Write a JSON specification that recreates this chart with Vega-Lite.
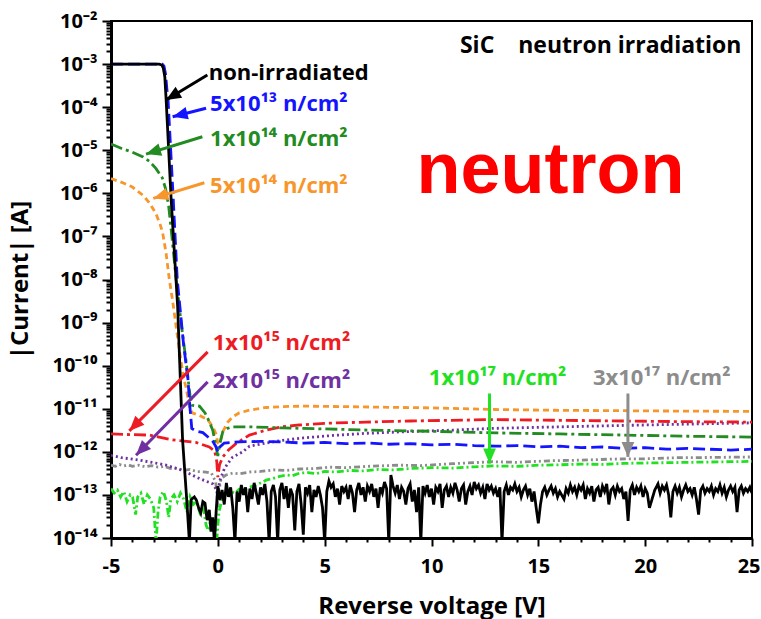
{
  "$schema": "https://vega.github.io/schema/vega-lite/v6.json",
  "width": 641,
  "height": 517,
  "autosize": {"type": "none"},
  "padding": {"left": 111, "top": 21, "right": 9, "bottom": 81},
  "background": "white",
  "config": {
    "view": {"stroke": "black", "strokeWidth": 2},
    "axis": {
      "grid": false,
      "domainColor": "black",
      "domainWidth": 3,
      "tickColor": "black",
      "tickWidth": 2,
      "labelColor": "black",
      "labelFont": "Open Sans",
      "labelFontWeight": "bold",
      "labelFontSize": 20,
      "labelOverlap": false,
      "labelFlush": false,
      "titleColor": "black",
      "titleFont": "Open Sans",
      "titleFontWeight": "bold",
      "titleFontSize": 24
    }
  },
  "datasets": {
    "curves": [
      {"s": "3e17", "x": -5, "y": 4.9e-13}, {"s": "3e17", "x": -4.8, "y": 4.6e-13}, {"s": "3e17", "x": -4.6, "y": 5.1e-13}, {"s": "3e17", "x": -4.4, "y": 4.7e-13}, {"s": "3e17", "x": -4.2, "y": 5.0e-13}, {"s": "3e17", "x": -4.0, "y": 4.6e-13}, {"s": "3e17", "x": -3.7, "y": 4.9e-13}, {"s": "3e17", "x": -3.4, "y": 4.5e-13}, {"s": "3e17", "x": -3.1, "y": 4.8e-13}, {"s": "3e17", "x": -2.8, "y": 4.4e-13}, {"s": "3e17", "x": -2.5, "y": 4.6e-13}, {"s": "3e17", "x": -2.2, "y": 4.1e-13}, {"s": "3e17", "x": -1.9, "y": 4.2e-13}, {"s": "3e17", "x": -1.65, "y": 3.7e-13}, {"s": "3e17", "x": -1.3, "y": 3.9e-13}, {"s": "3e17", "x": -1.0, "y": 3.5e-13}, {"s": "3e17", "x": -0.55, "y": 3.4e-13}, {"s": "3e17", "x": -0.3, "y": 3.2e-13}, {"s": "3e17", "x": -0.1, "y": 2.0e-13}, {"s": "3e17", "x": -0.02, "y": 8e-14}, {"s": "3e17", "x": 0.0, "y": 5e-14}, {"s": "3e17", "x": 0.05, "y": 1.2e-13}, {"s": "3e17", "x": 0.15, "y": 2.4e-13}, {"s": "3e17", "x": 0.38, "y": 2.9e-13}, {"s": "3e17", "x": 0.7, "y": 3.2e-13}, {"s": "3e17", "x": 1.0, "y": 3.1e-13}, {"s": "3e17", "x": 1.48, "y": 3.4e-13}, {"s": "3e17", "x": 2.0, "y": 3.5e-13}, {"s": "3e17", "x": 2.6, "y": 3.8e-13}, {"s": "3e17", "x": 3.2, "y": 3.7e-13}, {"s": "3e17", "x": 3.82, "y": 4.0e-13}, {"s": "3e17", "x": 4.5, "y": 4.1e-13}, {"s": "3e17", "x": 5.2, "y": 4.4e-13}, {"s": "3e17", "x": 6.0, "y": 4.3e-13}, {"s": "3e17", "x": 7.0, "y": 4.6e-13}, {"s": "3e17", "x": 8.5, "y": 4.9e-13}, {"s": "3e17", "x": 9.5, "y": 4.8e-13}, {"s": "3e17", "x": 11.0, "y": 5.3e-13}, {"s": "3e17", "x": 12.87, "y": 5.9e-13}, {"s": "3e17", "x": 14.0, "y": 5.7e-13}, {"s": "3e17", "x": 15.5, "y": 6.2e-13}, {"s": "3e17", "x": 17.0, "y": 6.4e-13}, {"s": "3e17", "x": 18.5, "y": 6.8e-13}, {"s": "3e17", "x": 20.0, "y": 6.9e-13}, {"s": "3e17", "x": 21.5, "y": 7.3e-13}, {"s": "3e17", "x": 23.0, "y": 7.4e-13}, {"s": "3e17", "x": 25.0, "y": 7.6e-13},

      {"s": "1e17", "x": -5, "y": 1.4e-13}, {"s": "1e17", "x": -4.85, "y": 1.1e-13}, {"s": "1e17", "x": -4.7, "y": 1.3e-13}, {"s": "1e17", "x": -4.55, "y": 9e-14}, {"s": "1e17", "x": -4.4, "y": 1.2e-13}, {"s": "1e17", "x": -4.25, "y": 7e-14}, {"s": "1e17", "x": -4.1, "y": 1.0e-13}, {"s": "1e17", "x": -3.99, "y": 8.9e-14}, {"s": "1e17", "x": -3.85, "y": 3.5e-14}, {"s": "1e17", "x": -3.75, "y": 9e-14}, {"s": "1e17", "x": -3.6, "y": 1.1e-13}, {"s": "1e17", "x": -3.45, "y": 6e-14}, {"s": "1e17", "x": -3.3, "y": 1.0e-13}, {"s": "1e17", "x": -3.15, "y": 8e-14}, {"s": "1e17", "x": -3.0, "y": 5e-14}, {"s": "1e17", "x": -2.89, "y": 8e-15}, {"s": "1e17", "x": -2.8, "y": 4e-14}, {"s": "1e17", "x": -2.7, "y": 9e-14}, {"s": "1e17", "x": -2.55, "y": 1.2e-13}, {"s": "1e17", "x": -2.4, "y": 7e-14}, {"s": "1e17", "x": -2.3, "y": 3e-14}, {"s": "1e17", "x": -2.2, "y": 8e-14}, {"s": "1e17", "x": -2.05, "y": 1.0e-13}, {"s": "1e17", "x": -1.9, "y": 7e-14}, {"s": "1e17", "x": -1.75, "y": 1.1e-13}, {"s": "1e17", "x": -1.6, "y": 8e-14}, {"s": "1e17", "x": -1.45, "y": 4e-14}, {"s": "1e17", "x": -1.3, "y": 9e-14}, {"s": "1e17", "x": -1.15, "y": 6e-14}, {"s": "1e17", "x": -1.0, "y": 7e-14}, {"s": "1e17", "x": -0.85, "y": 4e-14}, {"s": "1e17", "x": -0.7, "y": 6e-14}, {"s": "1e17", "x": -0.55, "y": 2e-14}, {"s": "1e17", "x": -0.45, "y": 1.5e-14}, {"s": "1e17", "x": -0.3, "y": 3e-14}, {"s": "1e17", "x": -0.15, "y": 2e-14}, {"s": "1e17", "x": -0.05, "y": 9e-15}, {"s": "1e17", "x": 0.05, "y": 4e-14}, {"s": "1e17", "x": 0.2, "y": 8e-14}, {"s": "1e17", "x": 0.38, "y": 1.0e-13}, {"s": "1e17", "x": 0.6, "y": 1.2e-13}, {"s": "1e17", "x": 0.8, "y": 1.1e-13}, {"s": "1e17", "x": 1.0, "y": 1.35e-13}, {"s": "1e17", "x": 1.2, "y": 1.3e-13}, {"s": "1e17", "x": 1.48, "y": 1.5e-13}, {"s": "1e17", "x": 1.8, "y": 1.7e-13}, {"s": "1e17", "x": 2.0, "y": 1.9e-13}, {"s": "1e17", "x": 2.26, "y": 2.2e-13}, {"s": "1e17", "x": 2.57, "y": 2.4e-13}, {"s": "1e17", "x": 2.9, "y": 2.7e-13}, {"s": "1e17", "x": 3.2, "y": 2.9e-13}, {"s": "1e17", "x": 3.5, "y": 2.8e-13}, {"s": "1e17", "x": 3.82, "y": 3.2e-13}, {"s": "1e17", "x": 4.2, "y": 3.3e-13}, {"s": "1e17", "x": 4.6, "y": 3.1e-13}, {"s": "1e17", "x": 5.0, "y": 3.5e-13}, {"s": "1e17", "x": 5.5, "y": 3.4e-13}, {"s": "1e17", "x": 6.16, "y": 3.7e-13}, {"s": "1e17", "x": 6.8, "y": 3.6e-13}, {"s": "1e17", "x": 7.5, "y": 3.9e-13}, {"s": "1e17", "x": 8.2, "y": 3.8e-13}, {"s": "1e17", "x": 9.0, "y": 4.1e-13}, {"s": "1e17", "x": 10.06, "y": 4.3e-13}, {"s": "1e17", "x": 11.0, "y": 4.2e-13}, {"s": "1e17", "x": 12.0, "y": 4.5e-13}, {"s": "1e17", "x": 12.87, "y": 4.7e-13}, {"s": "1e17", "x": 14.0, "y": 4.6e-13}, {"s": "1e17", "x": 15.0, "y": 4.9e-13}, {"s": "1e17", "x": 16.0, "y": 5.0e-13}, {"s": "1e17", "x": 17.0, "y": 5.2e-13}, {"s": "1e17", "x": 18.0, "y": 5.1e-13}, {"s": "1e17", "x": 19.0, "y": 5.4e-13}, {"s": "1e17", "x": 20.0, "y": 5.5e-13}, {"s": "1e17", "x": 21.0, "y": 5.6e-13}, {"s": "1e17", "x": 22.0, "y": 5.7e-13}, {"s": "1e17", "x": 23.0, "y": 5.8e-13}, {"s": "1e17", "x": 24.0, "y": 5.9e-13}, {"s": "1e17", "x": 25.0, "y": 6.0e-13},

      {"s": "2e15", "x": -5, "y": 8.3e-13}, {"s": "2e15", "x": -4.5, "y": 7.3e-13}, {"s": "2e15", "x": -3.83, "y": 6.6e-13}, {"s": "2e15", "x": -3.0, "y": 5.6e-13}, {"s": "2e15", "x": -2.42, "y": 4.9e-13}, {"s": "2e15", "x": -1.65, "y": 3.7e-13}, {"s": "2e15", "x": -0.86, "y": 2.4e-13}, {"s": "2e15", "x": -0.24, "y": 1.8e-13}, {"s": "2e15", "x": -0.05, "y": 1.3e-13}, {"s": "2e15", "x": 0.0, "y": 1.1e-13}, {"s": "2e15", "x": 0.1, "y": 2.2e-13}, {"s": "2e15", "x": 0.3, "y": 4.0e-13}, {"s": "2e15", "x": 0.46, "y": 5.3e-13}, {"s": "2e15", "x": 0.69, "y": 7.5e-13}, {"s": "2e15", "x": 1.16, "y": 1.0e-12}, {"s": "2e15", "x": 1.48, "y": 1.35e-12}, {"s": "2e15", "x": 2.26, "y": 1.6e-12}, {"s": "2e15", "x": 3.04, "y": 1.85e-12}, {"s": "2e15", "x": 4.0, "y": 2.1e-12}, {"s": "2e15", "x": 5.38, "y": 2.4e-12}, {"s": "2e15", "x": 7.0, "y": 2.7e-12}, {"s": "2e15", "x": 8.5, "y": 2.9e-12}, {"s": "2e15", "x": 11.0, "y": 3.2e-12}, {"s": "2e15", "x": 12.87, "y": 3.5e-12}, {"s": "2e15", "x": 16.0, "y": 3.8e-12}, {"s": "2e15", "x": 19.0, "y": 4.1e-12}, {"s": "2e15", "x": 22.0, "y": 4.4e-12}, {"s": "2e15", "x": 25.0, "y": 4.7e-12},

      {"s": "1e15", "x": -5, "y": 2.6e-12}, {"s": "1e15", "x": -4.0, "y": 2.5e-12}, {"s": "1e15", "x": -3.21, "y": 2.45e-12}, {"s": "1e15", "x": -2.12, "y": 1.9e-12}, {"s": "1e15", "x": -1.02, "y": 1.65e-12}, {"s": "1e15", "x": -0.4, "y": 1.3e-12}, {"s": "1e15", "x": -0.15, "y": 1.05e-12}, {"s": "1e15", "x": -0.05, "y": 6e-13}, {"s": "1e15", "x": 0.0, "y": 2.6e-13}, {"s": "1e15", "x": 0.08, "y": 5e-13}, {"s": "1e15", "x": 0.23, "y": 7.6e-13}, {"s": "1e15", "x": 0.5, "y": 1.1e-12}, {"s": "1e15", "x": 0.85, "y": 1.55e-12}, {"s": "1e15", "x": 1.48, "y": 2.45e-12}, {"s": "1e15", "x": 2.26, "y": 3.2e-12}, {"s": "1e15", "x": 3.0, "y": 3.8e-12}, {"s": "1e15", "x": 3.82, "y": 4.2e-12}, {"s": "1e15", "x": 5.0, "y": 4.6e-12}, {"s": "1e15", "x": 6.94, "y": 4.9e-12}, {"s": "1e15", "x": 9.0, "y": 5.2e-12}, {"s": "1e15", "x": 12.87, "y": 5.6e-12}, {"s": "1e15", "x": 16.0, "y": 5.4e-12}, {"s": "1e15", "x": 19.0, "y": 5.2e-12}, {"s": "1e15", "x": 22.0, "y": 5.0e-12}, {"s": "1e15", "x": 25.0, "y": 4.9e-12},

      {"s": "5e14", "x": -5, "y": 2.2e-6}, {"s": "5e14", "x": -4.5, "y": 1.8e-6}, {"s": "5e14", "x": -4.0, "y": 1.4e-6}, {"s": "5e14", "x": -3.5, "y": 9e-7}, {"s": "5e14", "x": -3.2, "y": 6e-7}, {"s": "5e14", "x": -2.9, "y": 3.4e-7}, {"s": "5e14", "x": -2.7, "y": 1.9e-7}, {"s": "5e14", "x": -2.58, "y": 1.2e-7}, {"s": "5e14", "x": -2.42, "y": 4e-8}, {"s": "5e14", "x": -2.27, "y": 1e-8}, {"s": "5e14", "x": -2.12, "y": 3.3e-9}, {"s": "5e14", "x": -1.95, "y": 8e-10}, {"s": "5e14", "x": -1.8, "y": 2.3e-10}, {"s": "5e14", "x": -1.6, "y": 5e-11}, {"s": "5e14", "x": -1.49, "y": 3.2e-11}, {"s": "5e14", "x": -1.4, "y": 1.8e-11}, {"s": "5e14", "x": -1.33, "y": 1.1e-11}, {"s": "5e14", "x": -1.2, "y": 8e-12}, {"s": "5e14", "x": -0.86, "y": 7e-12}, {"s": "5e14", "x": -0.6, "y": 6e-12}, {"s": "5e14", "x": -0.4, "y": 5e-12}, {"s": "5e14", "x": -0.2, "y": 3.5e-12}, {"s": "5e14", "x": -0.09, "y": 2.6e-12}, {"s": "5e14", "x": 0.0, "y": 1.6e-12}, {"s": "5e14", "x": 0.08, "y": 1.5e-12}, {"s": "5e14", "x": 0.23, "y": 2.9e-12}, {"s": "5e14", "x": 0.45, "y": 4.8e-12}, {"s": "5e14", "x": 0.69, "y": 6.5e-12}, {"s": "5e14", "x": 1.0, "y": 8e-12}, {"s": "5e14", "x": 1.48, "y": 9.3e-12}, {"s": "5e14", "x": 2.26, "y": 1.07e-11}, {"s": "5e14", "x": 3.0, "y": 1.12e-11}, {"s": "5e14", "x": 4.0, "y": 1.15e-11}, {"s": "5e14", "x": 6.0, "y": 1.12e-11}, {"s": "5e14", "x": 8.0, "y": 1.08e-11}, {"s": "5e14", "x": 10.0, "y": 1.05e-11}, {"s": "5e14", "x": 13.0, "y": 9.6e-12}, {"s": "5e14", "x": 16.0, "y": 9.2e-12}, {"s": "5e14", "x": 19.0, "y": 9.0e-12}, {"s": "5e14", "x": 22.0, "y": 8.8e-12}, {"s": "5e14", "x": 25.0, "y": 8.7e-12},

      {"s": "1e14", "x": -5, "y": 1.4e-5}, {"s": "1e14", "x": -4.5, "y": 1.1e-5}, {"s": "1e14", "x": -4.0, "y": 9e-6}, {"s": "1e14", "x": -3.5, "y": 7e-6}, {"s": "1e14", "x": -3.2, "y": 5.5e-6}, {"s": "1e14", "x": -2.9, "y": 3.8e-6}, {"s": "1e14", "x": -2.6, "y": 2.3e-6}, {"s": "1e14", "x": -2.45, "y": 1.3e-6}, {"s": "1e14", "x": -2.3, "y": 5e-7}, {"s": "1e14", "x": -2.15, "y": 1e-7}, {"s": "1e14", "x": -1.95, "y": 1e-8}, {"s": "1e14", "x": -1.72, "y": 1e-9}, {"s": "1e14", "x": -1.49, "y": 1.3e-10}, {"s": "1e14", "x": -1.3, "y": 2e-11}, {"s": "1e14", "x": -1.2, "y": 1.2e-11}, {"s": "1e14", "x": -0.86, "y": 1.15e-11}, {"s": "1e14", "x": -0.6, "y": 8e-12}, {"s": "1e14", "x": -0.4, "y": 5e-12}, {"s": "1e14", "x": -0.24, "y": 3.2e-12}, {"s": "1e14", "x": -0.08, "y": 1.3e-12}, {"s": "1e14", "x": 0.0, "y": 8e-13}, {"s": "1e14", "x": 0.1, "y": 1.6e-12}, {"s": "1e14", "x": 0.23, "y": 2.9e-12}, {"s": "1e14", "x": 0.45, "y": 3.5e-12}, {"s": "1e14", "x": 0.69, "y": 3.8e-12}, {"s": "1e14", "x": 1.5, "y": 3.8e-12}, {"s": "1e14", "x": 3.0, "y": 3.6e-12}, {"s": "1e14", "x": 5.0, "y": 3.4e-12}, {"s": "1e14", "x": 7.0, "y": 3.2e-12}, {"s": "1e14", "x": 10.0, "y": 3.0e-12}, {"s": "1e14", "x": 13.0, "y": 2.75e-12}, {"s": "1e14", "x": 16.0, "y": 2.6e-12}, {"s": "1e14", "x": 19.0, "y": 2.45e-12}, {"s": "1e14", "x": 22.0, "y": 2.3e-12}, {"s": "1e14", "x": 25.0, "y": 2.2e-12},

      {"s": "5e13", "x": -5, "y": 1e-3}, {"s": "5e13", "x": -4, "y": 1e-3}, {"s": "5e13", "x": -3, "y": 1e-3}, {"s": "5e13", "x": -2.6, "y": 1e-3}, {"s": "5e13", "x": -2.52, "y": 9e-4}, {"s": "5e13", "x": -2.45, "y": 6e-4}, {"s": "5e13", "x": -2.38, "y": 2.5e-4}, {"s": "5e13", "x": -2.33, "y": 1.5e-4}, {"s": "5e13", "x": -2.1, "y": 1e-6}, {"s": "5e13", "x": -1.9, "y": 1e-8}, {"s": "5e13", "x": -1.6, "y": 3e-10}, {"s": "5e13", "x": -1.4, "y": 5e-11}, {"s": "5e13", "x": -1.3, "y": 1e-11}, {"s": "5e13", "x": -1.22, "y": 3.5e-12}, {"s": "5e13", "x": -1.0, "y": 3.0e-12}, {"s": "5e13", "x": -0.7, "y": 2.8e-12}, {"s": "5e13", "x": -0.5, "y": 2.3e-12}, {"s": "5e13", "x": -0.25, "y": 1.8e-12}, {"s": "5e13", "x": -0.08, "y": 1.3e-12}, {"s": "5e13", "x": 0.0, "y": 1.0e-12}, {"s": "5e13", "x": 0.1, "y": 1.3e-12}, {"s": "5e13", "x": 0.3, "y": 1.6e-12}, {"s": "5e13", "x": 1.0, "y": 1.7e-12}, {"s": "5e13", "x": 2.0, "y": 1.75e-12}, {"s": "5e13", "x": 3.0, "y": 1.7e-12}, {"s": "5e13", "x": 4.0, "y": 1.6e-12}, {"s": "5e13", "x": 5.0, "y": 1.65e-12}, {"s": "5e13", "x": 6.0, "y": 1.55e-12}, {"s": "5e13", "x": 7.0, "y": 1.6e-12}, {"s": "5e13", "x": 8.0, "y": 1.5e-12}, {"s": "5e13", "x": 9.0, "y": 1.55e-12}, {"s": "5e13", "x": 10.0, "y": 1.45e-12}, {"s": "5e13", "x": 11.0, "y": 1.5e-12}, {"s": "5e13", "x": 12.0, "y": 1.4e-12}, {"s": "5e13", "x": 13.0, "y": 1.35e-12}, {"s": "5e13", "x": 14.0, "y": 1.4e-12}, {"s": "5e13", "x": 15.0, "y": 1.3e-12}, {"s": "5e13", "x": 16.0, "y": 1.35e-12}, {"s": "5e13", "x": 17.0, "y": 1.25e-12}, {"s": "5e13", "x": 18.0, "y": 1.3e-12}, {"s": "5e13", "x": 19.0, "y": 1.2e-12}, {"s": "5e13", "x": 20.0, "y": 1.25e-12}, {"s": "5e13", "x": 21.0, "y": 1.15e-12}, {"s": "5e13", "x": 22.0, "y": 1.2e-12}, {"s": "5e13", "x": 23.0, "y": 1.15e-12}, {"s": "5e13", "x": 24.0, "y": 1.1e-12}, {"s": "5e13", "x": 25.0, "y": 1.15e-12},

      {"s": "non", "x": -5, "y": 1e-3}, {"s": "non", "x": -4, "y": 1e-3}, {"s": "non", "x": -3, "y": 1e-3}, {"s": "non", "x": -2.75, "y": 1e-3}, {"s": "non", "x": -2.62, "y": 9.5e-4}, {"s": "non", "x": -2.55, "y": 8e-4}, {"s": "non", "x": -2.48, "y": 5e-4}, {"s": "non", "x": -2.42, "y": 1.5e-4}, {"s": "non", "x": -2.3, "y": 1e-5}, {"s": "non", "x": -2.19, "y": 8e-7}, {"s": "non", "x": -2.04, "y": 4.8e-8}, {"s": "non", "x": -1.88, "y": 2.3e-9}, {"s": "non", "x": -1.65, "y": 1.9e-12}, {"s": "non", "x": -1.45, "y": 7e-14}, {"s": "non", "x": -1.33, "y": 8e-15},
      {"s": "non", "x": -1.25, "y": 7.8e-14}, {"s": "non", "x": -1.1, "y": 9e-14}, {"s": "non", "x": -1.0, "y": 7.5e-14}, {"s": "non", "x": -0.9, "y": 5e-14}, {"s": "non", "x": -0.8, "y": 3.8e-14}, {"s": "non", "x": -0.7, "y": 7e-14}, {"s": "non", "x": -0.6, "y": 6.4e-14}, {"s": "non", "x": -0.5, "y": 2.6e-14}, {"s": "non", "x": -0.4, "y": 4.5e-14}, {"s": "non", "x": -0.32, "y": 1.4e-14}, {"s": "non", "x": -0.24, "y": 3e-14}, {"s": "non", "x": -0.16, "y": 8e-15}, {"s": "non", "x": -0.08, "y": 4e-14},
      {"s": "non", "x": 0.0, "y": 1.6e-13}, {"s": "non", "x": 0.1, "y": 7.6e-14}, {"s": "non", "x": 0.2, "y": 1.3e-13}, {"s": "non", "x": 0.3, "y": 6e-14}, {"s": "non", "x": 0.4, "y": 1.9e-13}, {"s": "non", "x": 0.5, "y": 9e-14}, {"s": "non", "x": 0.6, "y": 1.5e-13}, {"s": "non", "x": 0.7, "y": 5e-14}, {"s": "non", "x": 0.8, "y": 8e-15}, {"s": "non", "x": 0.9, "y": 1.2e-13},
      {"s": "non", "x": 1.0, "y": 7e-14}, {"s": "non", "x": 1.1, "y": 1.7e-13}, {"s": "non", "x": 1.2, "y": 1.0e-13}, {"s": "non", "x": 1.3, "y": 1.5e-13}, {"s": "non", "x": 1.4, "y": 4e-14}, {"s": "non", "x": 1.5, "y": 1.4e-13}, {"s": "non", "x": 1.6, "y": 8e-14}, {"s": "non", "x": 1.7, "y": 1.9e-13}, {"s": "non", "x": 1.8, "y": 1.1e-13}, {"s": "non", "x": 1.9, "y": 6e-14},
      {"s": "non", "x": 2.0, "y": 1.5e-13}, {"s": "non", "x": 2.1, "y": 1.0e-13}, {"s": "non", "x": 2.2, "y": 1.8e-13}, {"s": "non", "x": 2.3, "y": 7e-14}, {"s": "non", "x": 2.4, "y": 8e-15}, {"s": "non", "x": 2.5, "y": 1.2e-13}, {"s": "non", "x": 2.6, "y": 1.7e-13}, {"s": "non", "x": 2.7, "y": 9e-14}, {"s": "non", "x": 2.8, "y": 8e-15}, {"s": "non", "x": 2.9, "y": 1.3e-13},
      {"s": "non", "x": 3.0, "y": 1.9e-13}, {"s": "non", "x": 3.1, "y": 8e-14}, {"s": "non", "x": 3.2, "y": 1.6e-13}, {"s": "non", "x": 3.3, "y": 5e-14}, {"s": "non", "x": 3.4, "y": 1.4e-13}, {"s": "non", "x": 3.5, "y": 1.0e-13}, {"s": "non", "x": 3.6, "y": 1.5e-14}, {"s": "non", "x": 3.7, "y": 1.2e-13}, {"s": "non", "x": 3.8, "y": 1.8e-13}, {"s": "non", "x": 3.9, "y": 6e-14},
      {"s": "non", "x": 4.0, "y": 1.2e-14}, {"s": "non", "x": 4.1, "y": 1.5e-13}, {"s": "non", "x": 4.2, "y": 1.1e-13}, {"s": "non", "x": 4.3, "y": 1.7e-13}, {"s": "non", "x": 4.4, "y": 4e-14}, {"s": "non", "x": 4.5, "y": 1.3e-13}, {"s": "non", "x": 4.6, "y": 9e-14}, {"s": "non", "x": 4.7, "y": 1.6e-13}, {"s": "non", "x": 4.8, "y": 1.0e-13}, {"s": "non", "x": 4.9, "y": 5e-14},
      {"s": "non", "x": 5.0, "y": 8e-15}, {"s": "non", "x": 5.1, "y": 1.2e-13}, {"s": "non", "x": 5.2, "y": 2.1e-13}, {"s": "non", "x": 5.3, "y": 1.5e-13}, {"s": "non", "x": 5.4, "y": 1.8e-13}, {"s": "non", "x": 5.5, "y": 9e-14}, {"s": "non", "x": 5.6, "y": 1.4e-13}, {"s": "non", "x": 5.7, "y": 6e-14}, {"s": "non", "x": 5.8, "y": 1.6e-13}, {"s": "non", "x": 5.9, "y": 1.2e-13},
      {"s": "non", "x": 6.0, "y": 1.5e-13}, {"s": "non", "x": 6.1, "y": 8e-14}, {"s": "non", "x": 6.2, "y": 1.7e-13}, {"s": "non", "x": 6.3, "y": 1.1e-13}, {"s": "non", "x": 6.4, "y": 4e-14}, {"s": "non", "x": 6.5, "y": 1.3e-13}, {"s": "non", "x": 6.6, "y": 1.9e-13}, {"s": "non", "x": 6.7, "y": 1.0e-13}, {"s": "non", "x": 6.8, "y": 1.5e-13}, {"s": "non", "x": 6.9, "y": 7e-14},
      {"s": "non", "x": 7.0, "y": 1.6e-13}, {"s": "non", "x": 7.1, "y": 1.2e-13}, {"s": "non", "x": 7.2, "y": 1.8e-13}, {"s": "non", "x": 7.3, "y": 9e-14}, {"s": "non", "x": 7.4, "y": 1.4e-13}, {"s": "non", "x": 7.5, "y": 5e-14}, {"s": "non", "x": 7.6, "y": 1.5e-13}, {"s": "non", "x": 7.7, "y": 1.1e-13}, {"s": "non", "x": 7.8, "y": 2.0e-13}, {"s": "non", "x": 7.9, "y": 1.4e-13},
      {"s": "non", "x": 8.0, "y": 8e-15}, {"s": "non", "x": 8.1, "y": 2.9e-13}, {"s": "non", "x": 8.2, "y": 1.6e-13}, {"s": "non", "x": 8.3, "y": 1.1e-13}, {"s": "non", "x": 8.4, "y": 1.7e-13}, {"s": "non", "x": 8.5, "y": 8e-14}, {"s": "non", "x": 8.6, "y": 1.5e-13}, {"s": "non", "x": 8.7, "y": 1.2e-13}, {"s": "non", "x": 8.8, "y": 6e-14}, {"s": "non", "x": 8.9, "y": 1.4e-13},
      {"s": "non", "x": 9.0, "y": 1.8e-13}, {"s": "non", "x": 9.1, "y": 7e-14}, {"s": "non", "x": 9.2, "y": 1.3e-13}, {"s": "non", "x": 9.3, "y": 4e-14}, {"s": "non", "x": 9.4, "y": 1.5e-13}, {"s": "non", "x": 9.5, "y": 8e-15}, {"s": "non", "x": 9.6, "y": 1.6e-13}, {"s": "non", "x": 9.7, "y": 1.1e-13}, {"s": "non", "x": 9.8, "y": 1.7e-13}, {"s": "non", "x": 9.9, "y": 9e-14},
      {"s": "non", "x": 10.0, "y": 1.4e-13}, {"s": "non", "x": 10.1, "y": 6e-14}, {"s": "non", "x": 10.2, "y": 1.5e-13}, {"s": "non", "x": 10.3, "y": 1.2e-13}, {"s": "non", "x": 10.4, "y": 1.8e-13}, {"s": "non", "x": 10.5, "y": 5e-14}, {"s": "non", "x": 10.6, "y": 1.3e-13}, {"s": "non", "x": 10.7, "y": 1.6e-13}, {"s": "non", "x": 10.8, "y": 9e-14}, {"s": "non", "x": 10.9, "y": 1.5e-13},
      {"s": "non", "x": 11.0, "y": 1.1e-13}, {"s": "non", "x": 11.1, "y": 1.9e-13}, {"s": "non", "x": 11.2, "y": 1.3e-13}, {"s": "non", "x": 11.3, "y": 7e-14}, {"s": "non", "x": 11.4, "y": 1.4e-13}, {"s": "non", "x": 11.5, "y": 1.7e-13}, {"s": "non", "x": 11.6, "y": 6e-14}, {"s": "non", "x": 11.7, "y": 1.2e-13}, {"s": "non", "x": 11.8, "y": 1.6e-13}, {"s": "non", "x": 11.9, "y": 1.0e-13},
      {"s": "non", "x": 12.0, "y": 2.0e-13}, {"s": "non", "x": 12.1, "y": 1.4e-13}, {"s": "non", "x": 12.2, "y": 1.7e-13}, {"s": "non", "x": 12.3, "y": 1.1e-13}, {"s": "non", "x": 12.4, "y": 1.5e-13}, {"s": "non", "x": 12.5, "y": 8e-14}, {"s": "non", "x": 12.6, "y": 1.8e-13}, {"s": "non", "x": 12.7, "y": 1.3e-13}, {"s": "non", "x": 12.8, "y": 1.6e-13}, {"s": "non", "x": 12.9, "y": 1.1e-13},
      {"s": "non", "x": 13.0, "y": 1.4e-13}, {"s": "non", "x": 13.1, "y": 9e-14}, {"s": "non", "x": 13.2, "y": 1.5e-13}, {"s": "non", "x": 13.3, "y": 8e-15}, {"s": "non", "x": 13.4, "y": 1.2e-13}, {"s": "non", "x": 13.5, "y": 1.7e-13}, {"s": "non", "x": 13.6, "y": 1.0e-13}, {"s": "non", "x": 13.7, "y": 1.5e-13}, {"s": "non", "x": 13.8, "y": 1.3e-13}, {"s": "non", "x": 13.9, "y": 1.8e-13},
      {"s": "non", "x": 14.0, "y": 1.2e-13}, {"s": "non", "x": 14.1, "y": 1.5e-13}, {"s": "non", "x": 14.2, "y": 9e-14}, {"s": "non", "x": 14.3, "y": 1.3e-13}, {"s": "non", "x": 14.4, "y": 1.6e-13}, {"s": "non", "x": 14.5, "y": 1.0e-13}, {"s": "non", "x": 14.6, "y": 1.4e-13}, {"s": "non", "x": 14.7, "y": 7e-14}, {"s": "non", "x": 14.8, "y": 1.2e-13}, {"s": "non", "x": 14.9, "y": 5e-14},
      {"s": "non", "x": 15.0, "y": 2.2e-14}, {"s": "non", "x": 15.1, "y": 6e-14}, {"s": "non", "x": 15.2, "y": 1.2e-13}, {"s": "non", "x": 15.3, "y": 1.5e-13}, {"s": "non", "x": 15.4, "y": 1.0e-13}, {"s": "non", "x": 15.5, "y": 1.3e-13}, {"s": "non", "x": 15.6, "y": 1.6e-13}, {"s": "non", "x": 15.7, "y": 1.1e-13}, {"s": "non", "x": 15.8, "y": 1.4e-13}, {"s": "non", "x": 15.9, "y": 9e-14},
      {"s": "non", "x": 16.0, "y": 1.2e-13}, {"s": "non", "x": 16.2, "y": 8e-14}, {"s": "non", "x": 16.3, "y": 1.4e-13}, {"s": "non", "x": 16.4, "y": 1.1e-13}, {"s": "non", "x": 16.5, "y": 1.7e-13}, {"s": "non", "x": 16.6, "y": 1.2e-13}, {"s": "non", "x": 16.7, "y": 1.5e-13}, {"s": "non", "x": 16.8, "y": 1.0e-13}, {"s": "non", "x": 16.9, "y": 1.6e-13},
      {"s": "non", "x": 17.0, "y": 1.3e-13}, {"s": "non", "x": 17.1, "y": 1.7e-13}, {"s": "non", "x": 17.2, "y": 8e-14}, {"s": "non", "x": 17.3, "y": 1.4e-13}, {"s": "non", "x": 17.4, "y": 1.1e-13}, {"s": "non", "x": 17.5, "y": 1.6e-13}, {"s": "non", "x": 17.6, "y": 7e-14}, {"s": "non", "x": 17.7, "y": 1.3e-13}, {"s": "non", "x": 17.8, "y": 1.5e-13}, {"s": "non", "x": 17.9, "y": 9e-14},
      {"s": "non", "x": 18.0, "y": 1.6e-13}, {"s": "non", "x": 18.1, "y": 1.2e-13}, {"s": "non", "x": 18.2, "y": 1.8e-13}, {"s": "non", "x": 18.3, "y": 6e-14}, {"s": "non", "x": 18.4, "y": 1.3e-13}, {"s": "non", "x": 18.5, "y": 1.5e-13}, {"s": "non", "x": 18.6, "y": 1.0e-13}, {"s": "non", "x": 18.7, "y": 1.6e-13}, {"s": "non", "x": 18.8, "y": 1.2e-13}, {"s": "non", "x": 18.9, "y": 1.4e-13},
      {"s": "non", "x": 19.0, "y": 8e-14}, {"s": "non", "x": 19.1, "y": 1.2e-13}, {"s": "non", "x": 19.2, "y": 2.5e-14}, {"s": "non", "x": 19.3, "y": 1.3e-13}, {"s": "non", "x": 19.4, "y": 1.7e-13}, {"s": "non", "x": 19.5, "y": 1.0e-13}, {"s": "non", "x": 19.6, "y": 1.5e-13}, {"s": "non", "x": 19.7, "y": 1.2e-13}, {"s": "non", "x": 19.8, "y": 1.6e-13}, {"s": "non", "x": 19.9, "y": 9e-14},
      {"s": "non", "x": 20.0, "y": 1.4e-13}, {"s": "non", "x": 20.1, "y": 1.1e-13}, {"s": "non", "x": 20.2, "y": 5e-14}, {"s": "non", "x": 20.45, "y": 1.3e-13}, {"s": "non", "x": 20.6, "y": 1.8e-13}, {"s": "non", "x": 20.7, "y": 1.1e-13}, {"s": "non", "x": 20.8, "y": 1.6e-13}, {"s": "non", "x": 20.9, "y": 1.3e-13},
      {"s": "non", "x": 21.0, "y": 1.7e-13}, {"s": "non", "x": 21.1, "y": 1.0e-13}, {"s": "non", "x": 21.2, "y": 3e-14}, {"s": "non", "x": 21.3, "y": 1.2e-13}, {"s": "non", "x": 21.4, "y": 1.6e-13}, {"s": "non", "x": 21.5, "y": 1.1e-13}, {"s": "non", "x": 21.6, "y": 1.5e-13}, {"s": "non", "x": 21.7, "y": 9e-14}, {"s": "non", "x": 21.8, "y": 1.3e-13}, {"s": "non", "x": 21.9, "y": 1.7e-13},
      {"s": "non", "x": 22.0, "y": 1.2e-13}, {"s": "non", "x": 22.1, "y": 1.4e-13}, {"s": "non", "x": 22.2, "y": 1.0e-13}, {"s": "non", "x": 22.3, "y": 1.5e-13}, {"s": "non", "x": 22.4, "y": 8e-14}, {"s": "non", "x": 22.5, "y": 3.5e-14}, {"s": "non", "x": 22.6, "y": 1.3e-13}, {"s": "non", "x": 22.7, "y": 1.6e-13}, {"s": "non", "x": 22.8, "y": 1.1e-13}, {"s": "non", "x": 22.9, "y": 1.4e-13},
      {"s": "non", "x": 23.0, "y": 1.2e-13}, {"s": "non", "x": 23.1, "y": 1.6e-13}, {"s": "non", "x": 23.2, "y": 1.0e-13}, {"s": "non", "x": 23.3, "y": 1.4e-13}, {"s": "non", "x": 23.4, "y": 1.2e-13}, {"s": "non", "x": 23.5, "y": 1.7e-13}, {"s": "non", "x": 23.6, "y": 1.1e-13}, {"s": "non", "x": 23.7, "y": 1.5e-13}, {"s": "non", "x": 23.8, "y": 9e-14}, {"s": "non", "x": 23.9, "y": 1.3e-13},
      {"s": "non", "x": 24.0, "y": 1.6e-13}, {"s": "non", "x": 24.1, "y": 1.2e-13}, {"s": "non", "x": 24.2, "y": 1.5e-13}, {"s": "non", "x": 24.3, "y": 4e-14}, {"s": "non", "x": 24.4, "y": 1.3e-13}, {"s": "non", "x": 24.5, "y": 1.6e-13}, {"s": "non", "x": 24.6, "y": 1.1e-13}, {"s": "non", "x": 24.7, "y": 1.4e-13}, {"s": "non", "x": 24.8, "y": 1.2e-13}, {"s": "non", "x": 24.9, "y": 1.5e-13},
      {"s": "non", "x": 25.0, "y": 1.1e-13}
    ],
    "arrows": [
      {"s": "non", "x": -2.424, "y": 1.46e-4, "xt": -0.49, "yt": 5.57e-4, "a": 238.8},
      {"s": "5e13", "x": -2.115, "y": 6.0e-5, "xt": -0.551, "yt": 9.4e-5, "a": 255.9},
      {"s": "1e14", "x": -3.361, "y": 8.15e-6, "xt": -0.724, "yt": 2.06e-5, "a": 252.9},
      {"s": "5e14", "x": -3.019, "y": 7.63e-7, "xt": -0.631, "yt": 1.76e-6, "a": 253.0},
      {"s": "1e15", "x": -4.143, "y": 3.06e-12, "xt": -0.476, "yt": 2.09e-10, "a": 224.7},
      {"s": "2e15", "x": -3.829, "y": 8.34e-13, "xt": -0.476, "yt": 4.2e-11, "a": 224.3},
      {"s": "1e17", "x": 12.716, "y": 5.35e-13, "xt": 12.716, "yt": 2.26e-11, "a": 180},
      {"s": "3e17", "x": 19.193, "y": 7.62e-13, "xt": 19.193, "yt": 2.26e-11, "a": 180}
    ],
    "labels": [
      {"s": "non", "label": "non-irradiated", "x": -0.429, "y": 4.26e-4},
      {"s": "5e13", "label": "5x10¹³ n/cm²", "x": -0.364, "y": 8.35e-5},
      {"s": "1e14", "label": "1x10¹⁴ n/cm²", "x": -0.364, "y": 1.25e-5},
      {"s": "5e14", "label": "5x10¹⁴ n/cm²", "x": -0.364, "y": 1.03e-6},
      {"s": "1e15", "label": "1x10¹⁵ n/cm²", "x": -0.242, "y": 2.29e-10},
      {"s": "2e15", "label": "2x10¹⁵ n/cm²", "x": -0.242, "y": 3.11e-11},
      {"s": "1e17", "label": "1x10¹⁷ n/cm²", "x": 9.874, "y": 3.52e-11},
      {"s": "3e17", "label": "3x10¹⁷ n/cm²", "x": 17.554, "y": 3.52e-11}
    ]
  },
  "encoding": {
    "x": {
      "field": "x",
      "type": "quantitative",
      "scale": {"domain": [-5, 25], "nice": false, "zero": false},
      "axis": {
        "title": "Reverse voltage [V]",
        "values": [-5, -4, -3, -2, -1, 0, 1, 2, 3, 4, 5, 6, 7, 8, 9, 10, 11, 12, 13, 14, 15, 16, 17, 18, 19, 20, 21, 22, 23, 24, 25],
        "labelExpr": "datum.value % 5 === 0 ? '' + datum.value : ''",
        "labelAlign": {"condition": {"test": "datum.value === 25", "value": "right"}, "value": "center"},
        "labelOffset": {"condition": {"test": "datum.value === 25", "value": 8}, "value": 0},
        "tickSize": {"condition": {"test": "datum.value % 5 === 0", "value": 8}, "value": 4},
        "labelPadding": 10,
        "titlePadding": 18
      }
    },
    "y": {
      "field": "y",
      "type": "quantitative",
      "scale": {"type": "log", "domain": [1e-14, 1e-2], "nice": false},
      "axis": {
        "title": "|Current| [A]",
        "values": [1e-14, 2e-14, 3e-14, 4e-14, 5e-14, 6e-14, 7e-14, 8e-14, 9e-14, 1e-13, 2e-13, 3e-13, 4e-13, 5e-13, 6e-13, 7e-13, 8e-13, 9e-13, 1e-12, 2e-12, 3e-12, 4e-12, 5e-12, 6e-12, 7e-12, 8e-12, 9e-12, 1e-11, 2e-11, 3e-11, 4e-11, 5e-11, 6e-11, 7e-11, 8e-11, 9e-11, 1e-10, 2e-10, 3e-10, 4e-10, 5e-10, 6e-10, 7e-10, 8e-10, 9e-10, 1e-9, 2e-9, 3e-9, 4e-9, 5e-9, 6e-9, 7e-9, 8e-9, 9e-9, 1e-8, 2e-8, 3e-8, 4e-8, 5e-8, 6e-8, 7e-8, 8e-8, 9e-8, 1e-7, 2e-7, 3e-7, 4e-7, 5e-7, 6e-7, 7e-7, 8e-7, 9e-7, 1e-6, 2e-6, 3e-6, 4e-6, 5e-6, 6e-6, 7e-6, 8e-6, 9e-6, 1e-5, 2e-5, 3e-5, 4e-5, 5e-5, 6e-5, 7e-5, 8e-5, 9e-5, 1e-4, 2e-4, 3e-4, 4e-4, 5e-4, 6e-4, 7e-4, 8e-4, 9e-4, 1e-3, 2e-3, 3e-3, 4e-3, 5e-3, 6e-3, 7e-3, 8e-3, 9e-3, 1e-2],
        "labelExpr": "abs(log(datum.value)/LN10 - round(log(datum.value)/LN10)) < 0.001 ? ['10⁻²','10⁻³','10⁻⁴','10⁻⁵','10⁻⁶','10⁻⁷','10⁻⁸','10⁻⁹','10⁻¹⁰','10⁻¹¹','10⁻¹²','10⁻¹³','10⁻¹⁴'][-2 - round(log(datum.value)/LN10)] : ''",
        "tickSize": {"condition": {"test": "abs(log(datum.value)/LN10 - round(log(datum.value)/LN10)) < 0.001", "value": 9}, "value": 5},
        "labelPadding": 5,
        "titlePadding": 19
      }
    }
  },
  "layer": [
    {
      "data": {"name": "curves"},
      "mark": {"type": "line", "strokeWidth": 2.8, "clip": true},
      "encoding": {
        "color": {
          "field": "s", "type": "nominal", "legend": null,
          "scale": {"domain": ["non", "5e13", "1e14", "5e14", "1e15", "2e15", "1e17", "3e17"],
                    "range": ["#000000", "#1414ff", "#228b22", "#f7962a", "#ed1c24", "#7030a0", "#22e022", "#8c8c8c"]}
        },
        "strokeDash": {
          "field": "s", "type": "nominal", "legend": null,
          "scale": {"domain": ["non", "5e13", "1e14", "5e14", "1e15", "2e15", "1e17", "3e17"],
                    "range": [[1, 0], [12, 5], [12, 4, 3, 4], [6, 4], [12, 4, 3, 4], [2, 3], [7, 3, 2, 3], [6, 3, 2, 3, 2, 3]]}
        }
      }
    },
    {
      "data": {"name": "arrows"},
      "mark": {"type": "rule", "strokeWidth": 3},
      "encoding": {
        "x2": {"field": "xt"},
        "y2": {"field": "yt"},
        "color": {"field": "s", "type": "nominal", "legend": null}
      }
    },
    {
      "data": {"name": "arrows"},
      "mark": {"type": "point", "shape": "M0,0L0.85,2L-0.85,2Z", "filled": true, "size": 225, "opacity": 1, "strokeWidth": 0},
      "encoding": {
        "angle": {"field": "a", "type": "quantitative", "scale": null},
        "color": {"field": "s", "type": "nominal", "legend": null}
      }
    },
    {
      "data": {"name": "labels"},
      "mark": {"type": "text", "align": "left", "baseline": "alphabetic", "font": "Open Sans", "fontSize": 22, "fontWeight": "bold"},
      "encoding": {
        "text": {"field": "label"},
        "color": {"field": "s", "type": "nominal", "legend": null}
      }
    },
    {
      "data": {"values": [{"x": 24.504, "y": 0.00184, "t": "SiC\u00a0\u00a0\u00a0 neutron irradiation"}]},
      "mark": {"type": "text", "align": "right", "baseline": "alphabetic", "font": "Open Sans", "fontSize": 23, "fontWeight": "bold", "color": "black"},
      "encoding": {"text": {"field": "t"}}
    },
    {
      "data": {"values": [{"x": 15.566, "y": 1.03e-6, "t": "neutron"}]},
      "mark": {"type": "text", "align": "center", "baseline": "alphabetic", "font": "Liberation Sans", "fontSize": 72, "fontWeight": "bold", "color": "#ff0000"},
      "encoding": {"text": {"field": "t"}}
    }
  ]
}
